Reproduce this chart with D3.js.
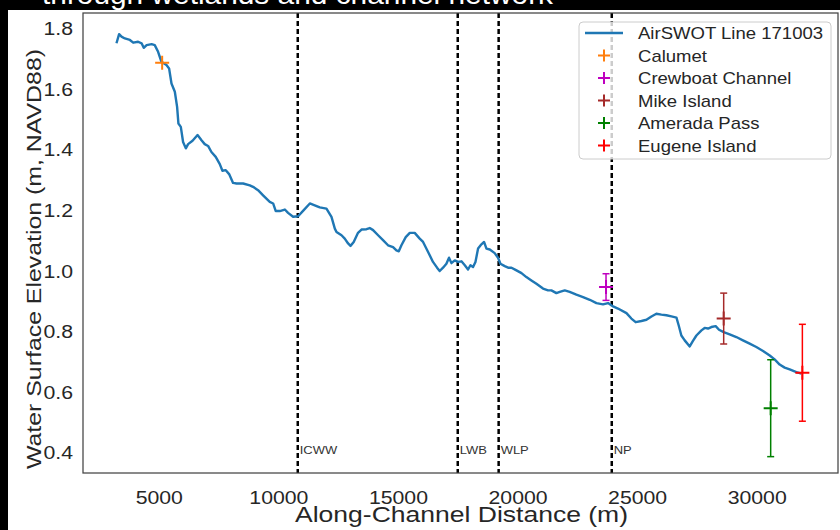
<!DOCTYPE html>
<html>
<head>
<meta charset="utf-8">
<script src="https://cdnjs.cloudflare.com/ajax/libs/d3/7.8.5/d3.min.js"></script>
<style>
    body { margin: 0; background: #fff; }
    text { font-family: "Liberation Sans", Arial, sans-serif; }
</style>
</head>
<body>
<script>
// AirSWOT water surface profile along the channel
var distance = [3230, 3340, 3440, 3580, 3790, 3930, 4135, 4280, 4370, 4490, 4700, 4830, 4970, 5110, 5320, 5430, 5530, 5670, 5765, 5820,
    5920, 6015, 6130, 6225, 6410, 6620, 6785, 6920, 7060, 7200, 7380, 7550, 7660, 7800, 7940, 8105, 8250, 8525, 8805, 8940,
    9150, 9360, 9640, 9780, 9890, 10060, 10270, 10405, 10615, 10825, 11060, 11315, 11520, 11730, 12010, 12220, 12360, 12430, 12640, 12775,
    12915, 13015, 13150, 13330, 13475, 13685, 13820, 13960, 14170, 14375, 14585, 14795, 14935, 15035, 15145, 15325, 15495, 15700, 15910, 16050,
    16260, 16465, 16635, 16745, 16885, 17025, 17135, 17235, 17375, 17515, 17655, 17795, 17930, 18030, 18140, 18240, 18350, 18490, 18600, 18700,
    18840, 19045, 19185, 19285, 19465, 19605, 19745, 19955, 20165, 20370, 20580, 20790, 21065, 21275, 21415, 21625, 21765, 21975, 22180, 22460,
    22740, 23020, 23300, 23575, 23785, 23995, 24200, 24555, 24760, 24940, 25180, 25390, 25600, 25805, 26015, 26225, 26435, 26645, 26740, 26850,
    26990, 27200, 27335, 27480, 27690, 27825, 27965, 28105, 28285, 28425, 28620, 28870, 29150, 29425, 29705, 29985, 30265, 30545, 30750, 30960,
    31170, 31380, 31660, 31870];
var elevation = [1.753, 1.783, 1.775, 1.769, 1.764, 1.755, 1.758, 1.753, 1.738, 1.747, 1.750, 1.747, 1.725, 1.692, 1.681, 1.670, 1.620, 1.593, 1.543, 1.488,
    1.477, 1.427, 1.406, 1.420, 1.431, 1.450, 1.433, 1.420, 1.414, 1.394, 1.378, 1.354, 1.332, 1.334, 1.321, 1.292, 1.290, 1.290, 1.284, 1.279,
    1.268, 1.251, 1.229, 1.224, 1.199, 1.199, 1.204, 1.193, 1.180, 1.182, 1.202, 1.224, 1.218, 1.211, 1.207, 1.180, 1.141, 1.130, 1.119, 1.108,
    1.092, 1.084, 1.097, 1.127, 1.138, 1.139, 1.143, 1.136, 1.119, 1.103, 1.086, 1.080, 1.069, 1.066, 1.086, 1.113, 1.127, 1.127, 1.108, 1.097,
    1.064, 1.031, 1.012, 1.001, 1.012, 1.025, 1.045, 1.027, 1.036, 1.031, 1.033, 1.020, 1.006, 1.020, 1.014, 1.031, 1.075, 1.089, 1.097, 1.075,
    1.072, 1.060, 1.045, 1.025, 1.017, 1.012, 1.012, 1.003, 0.994, 0.981, 0.970, 0.959, 0.943, 0.937, 0.937, 0.928, 0.932, 0.937, 0.932, 0.923,
    0.915, 0.906, 0.895, 0.891, 0.895, 0.884, 0.877, 0.862, 0.844, 0.832, 0.836, 0.840, 0.851, 0.860, 0.857, 0.855, 0.851, 0.847, 0.821, 0.788,
    0.772, 0.752, 0.770, 0.788, 0.805, 0.813, 0.811, 0.816, 0.819, 0.807, 0.799, 0.792, 0.783, 0.772, 0.761, 0.750, 0.737, 0.722, 0.709, 0.692,
    0.682, 0.676, 0.667, 0.662];

// tide gauges
var gaugeNames = ['Calumet', 'Crewboat Channel', 'Mike Island', 'Amerada Pass', 'Eugene Island'];
var gaugeDistance = [5140, 23700, 28620, 30585, 31910];
var gaugeElevation = [1.689, 0.948, 0.844, 0.548, 0.665];
var gaugeError = [0, 0.044, 0.084, 0.160, 0.160];
var gaugeColors = ['#ff7f0e', '#bf00bf', '#a52a2a', '#008000', '#ff0000'];

// channel features (dashed lines)
var featureNames = ['ICWW', 'LWB', 'WLP', 'NP'];
var featureDistance = [10810, 17500, 19210, 23940];

var xTicks = [5000, 10000, 15000, 20000, 25000, 30000];
var yTicks = [0.4, 0.6, 0.8, 1.0, 1.2, 1.4, 1.6, 1.8];

(function() {

    var width = 840, height = 530;
    var left = 83, right = 838, top = 13, bottom = 473;
    var ink = '#262626';

    // stretch text sideways, the picture is a bit wider than tall
    var stretch = function(sel, k) {
        sel.each(function() {
            var w = this.getComputedTextLength();
            d3.select(this)
                .attr('textLength', w * k)
                .attr('lengthAdjust', 'spacingAndGlyphs');
        });
    };

    var svg = d3.select('body').append('svg')
                .attr('width', width)
                .attr('height', height);

    svg.append('rect')
        .attr('width', width).attr('height', height)
        .attr('fill', '#fff');
    svg.append('rect')
        .attr('width', width).attr('height', 10)
        .attr('fill', '#000');
    svg.append('rect')
        .attr('width', 8).attr('height', height)
        .attr('fill', '#000');

    svg.append('text')
        .text('through wetlands and channel network')
        .attr('x', 42).attr('y', 4)
        .attr('fill', '#fff')
        .attr('font-size', 27)
        .attr('textLength', 511)
        .attr('lengthAdjust', 'spacingAndGlyphs');

    var x = d3.scaleLinear().domain([1830, 33400]).range([left, right]);
    var y = d3.scaleLinear().domain([0.334, 1.853]).range([bottom, top]);

    var xAxis = svg.append('g')
        .attr('transform', 'translate(0,' + bottom + ')')
        .call(d3.axisBottom(x).tickValues(xTicks).tickSize(0).tickPadding(18).tickFormat(d3.format('d')));
    var yAxis = svg.append('g')
        .attr('transform', 'translate(' + left + ',0)')
        .call(d3.axisLeft(y).tickValues(yTicks).tickSize(0).tickPadding(10).tickFormat(d3.format('.1f')));

    [xAxis, yAxis].forEach(function(g) {
        g.select('.domain').remove();
        g.selectAll('text')
            .attr('font-size', 18)
            .attr('font-family', '"Liberation Sans", Arial, sans-serif')
            .attr('fill', ink);
        stretch(g.selectAll('text'), 1.18);
    });

    // dashed feature lines
    svg.selectAll('line.feature')
        .data(featureDistance)
        .enter()
            .append('line')
            .attr('class', 'feature')
            .attr('x1', function(d) { return x(d); })
            .attr('x2', function(d) { return x(d); })
            .attr('y1', top)
            .attr('y2', bottom)
            .attr('stroke', '#000')
            .attr('stroke-width', 2.5)
            .attr('stroke-dasharray', '5,3');

    var featureText = svg.selectAll('text.feature')
        .data(featureNames)
        .enter()
            .append('text')
            .attr('class', 'feature')
            .text(function(d) { return d; })
            .attr('x', function(d, i) { return x(featureDistance[i]) + 2; })
            .attr('y', 454)
            .attr('font-size', 11)
            .attr('fill', '#333');
    stretch(featureText, 1.18);

    // profile
    var line = d3.line()
        .x(function(d, i) { return x(distance[i]); })
        .y(function(d) { return y(d); });

    svg.append('path')
        .datum(elevation)
        .attr('d', line)
        .attr('fill', 'none')
        .attr('stroke', '#1f77b4')
        .attr('stroke-width', 2.4)
        .attr('stroke-linejoin', 'round');

    // gauges with error bars
    var gauges = svg.selectAll('g.gauge')
        .data(gaugeNames)
        .enter()
            .append('g')
            .attr('class', 'gauge')
            .attr('stroke', function(d, i) { return gaugeColors[i]; })
            .attr('transform', function(d, i) {
                return 'translate(' + x(gaugeDistance[i]) + ',0)';
            });

    gauges.filter(function(d, i) { return gaugeError[i] > 0; })
        .each(function(d) {
            var i = gaugeNames.indexOf(d);
            var g = d3.select(this);
            var y0 = y(gaugeElevation[i] + gaugeError[i]),
                y1 = y(gaugeElevation[i] - gaugeError[i]);
            g.append('line').attr('x1', 0).attr('x2', 0).attr('y1', y0).attr('y2', y1).attr('stroke-width', 1.5);
            g.append('line').attr('x1', -3.5).attr('x2', 3.5).attr('y1', y0).attr('y2', y0).attr('stroke-width', 1.5);
            g.append('line').attr('x1', -3.5).attr('x2', 3.5).attr('y1', y1).attr('y2', y1).attr('stroke-width', 1.5);
        });

    gauges.append('path')
        .attr('d', function(d, i) {
            var cy = y(gaugeElevation[i]);
            return 'M-7,' + cy + 'H7M0,' + (cy - 7) + 'V' + (cy + 7);
        })
        .attr('stroke-width', 2);

    // frame
    svg.append('rect')
        .attr('x', left).attr('y', top)
        .attr('width', right - left).attr('height', bottom - top)
        .attr('fill', 'none')
        .attr('stroke', '#444')
        .attr('stroke-width', 1.25);

    // axis titles
    svg.append('text')
        .text('Along-Channel Distance (m)')
        .attr('x', (left + right) / 2 + 1)
        .attr('y', 522)
        .attr('text-anchor', 'middle')
        .attr('font-size', 22)
        .attr('fill', ink)
        .attr('textLength', 333)
        .attr('lengthAdjust', 'spacingAndGlyphs');

    svg.append('text')
        .text('Water Surface Elevation (m, NAVD88)')
        .attr('transform', 'translate(41,259) rotate(-90)')
        .attr('text-anchor', 'middle')
        .attr('font-size', 21)
        .attr('fill', ink)
        .attr('textLength', 420)
        .attr('lengthAdjust', 'spacingAndGlyphs');

    // legend
    var legend = svg.append('g').attr('transform', 'translate(579,22)');
    legend.append('rect')
        .attr('width', 252).attr('height', 137)
        .attr('rx', 4)
        .attr('fill', '#fff').attr('fill-opacity', 0.8)
        .attr('stroke', '#ccc');

    var labels = ['AirSWOT Line 171003'].concat(gaugeNames);
    var rows = legend.selectAll('g.row')
        .data(labels)
        .enter()
            .append('g')
            .attr('class', 'row')
            .attr('transform', function(d, i) { return 'translate(0,' + (11 + i * 22.5) + ')'; });

    rows.filter(function(d, i) { return i === 0; })
        .append('line')
        .attr('x1', 6).attr('x2', 44)
        .attr('stroke', '#1f77b4').attr('stroke-width', 2.4);

    rows.filter(function(d, i) { return i > 0; })
        .append('path')
        .attr('d', 'M19,0H31M25,-6V6')
        .attr('stroke', function(d) { return gaugeColors[gaugeNames.indexOf(d)]; })
        .attr('stroke-width', 2);

    var legendText = rows.append('text')
        .text(function(d) { return d; })
        .attr('x', 59)
        .attr('dy', '0.36em')
        .attr('font-size', 17)
        .attr('fill', ink);
    stretch(legendText, 1.09);

}());
</script>
</body>
</html>
